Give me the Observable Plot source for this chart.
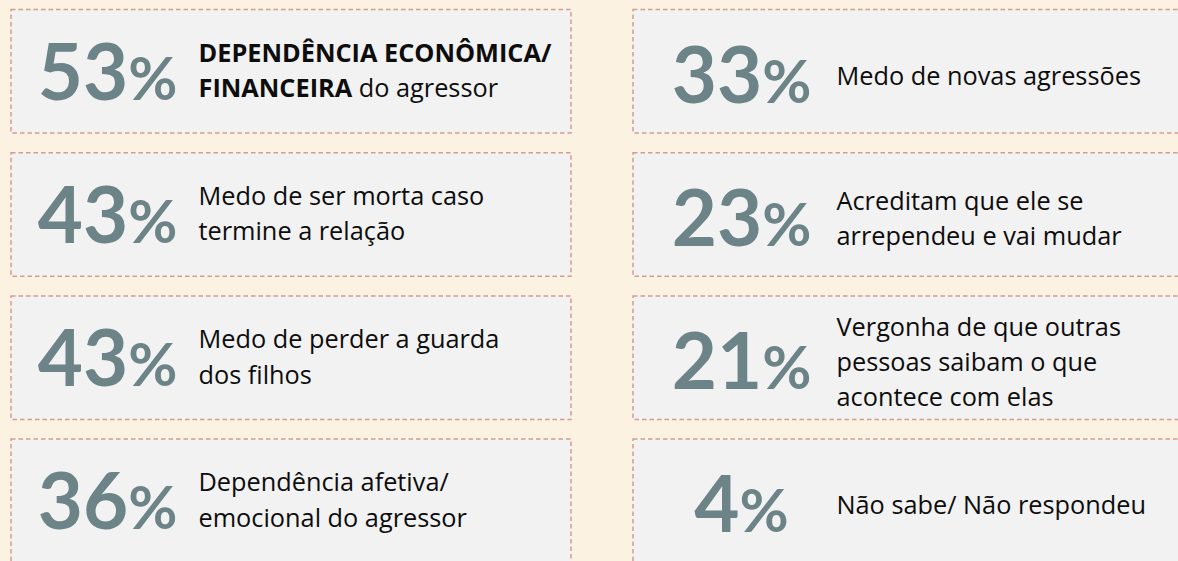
<!DOCTYPE html>
<html><head><meta charset="utf-8">
<script src="https://cdn.jsdelivr.net/npm/d3@7"></script>
<script src="https://cdn.jsdelivr.net/npm/@observablehq/plot@0.6"></script>
<style>
html,body{margin:0;padding:0;background:#fcf2e1;overflow:hidden;}
#chart svg{display:block;overflow:hidden;}
</style></head>
<body><div id="chart"></div>
<script>
// ---- data ----
const columns = ["left","left","left","left","right","right","right","right"];
const rows = [1,2,3,4,1,2,3,4];
const percents = [53,43,43,36,33,23,21,4];
const labels = [
  "**DEPENDÊNCIA ECONÔMICA/**\n**FINANCEIRA** do agressor",
  "Medo de ser morta caso\ntermine a relação",
  "Medo de perder a guarda\ndos filhos",
  "Dependência afetiva/\nemocional do agressor",
  "Medo de novas agressões",
  "Acreditam que ele se\narrependeu e vai mudar",
  "Vergonha de que outras\npessoas saibam o que\nacontece com elas",
  "Não sabe/ Não respondeu"
];

const data = percents.map((p, i) => ({col: columns[i], row: rows[i], pct: p, label: labels[i]}));
const leftData = data.filter(d => d.col === "left");
const rightData = data.filter(d => d.col === "right");

const numColor = "#6c8387";
const numOpts = {x: "col", y: "row", text: d => d.pct + "%", fontFamily: "Lato", fontWeight: "bold",
  fontSize: 78, fill: numColor, textAnchor: "middle", lineAnchor: "bottom"};
const labOpts = {x: "col", y: "row", text: "label", fontFamily: "Open Sans", fontSize: 25.3, fill: "#0d0d0d",
  textAnchor: "start", lineAnchor: "middle", lineHeight: 1.4};

const chart = Plot.plot({
  width: 1178, height: 561, margin: 0,
  x: {type: "band", domain: ["left","right"], range: [11, 1193], paddingInner: 0.0997, paddingOuter: 0, round: false, axis: null},
  y: {type: "band", domain: [1,2,3,4], range: [9.5, 562.6], paddingInner: 0.1376, paddingOuter: 0, round: false, axis: null},
  style: {background: "transparent", overflow: "hidden"},
  marks: [
    Plot.cell(data, {x: "col", y: "row", fill: "#f2f2f2", stroke: "#d29d94", strokeWidth: 1.5, strokeDasharray: "4.5,3"}),
    Plot.text(leftData, {...numOpts, dx: -184, dy: 28}),
    Plot.text(rightData, {...numOpts, dx: -172, dy: 31}),
    Plot.text(leftData, {...labOpts, dx: -93, dy: -3.5}),
    Plot.text(rightData, {...labOpts, dx: -77, dy: 1.5})
  ]
});
document.getElementById("chart").appendChild(chart);

const SVGNS = "http://www.w3.org/2000/svg";
const textGroups = chart.querySelectorAll('g[aria-label="text"]');
const numberGroups = [textGroups[0], textGroups[1]];
const labelGroups = [textGroups[2], textGroups[3]];

// smaller percent sign
numberGroups.forEach(g => g.querySelectorAll("text").forEach(el => {
  const digits = el.textContent.replace("%", "");
  el.textContent = "";
  const t1 = document.createElementNS(SVGNS, "tspan"); t1.textContent = digits;
  const t2 = document.createElementNS(SVGNS, "tspan"); t2.textContent = "%"; t2.setAttribute("font-size", 60);
  el.appendChild(t1); el.appendChild(t2);
}));

// bold segments marked with **
function applyBold(node) {
  const s = node.textContent;
  if (!s.includes("**")) return;
  node.textContent = "";
  s.split(/(\*\*[^*]+\*\*)/).filter(Boolean).forEach(part => {
    const t = document.createElementNS(SVGNS, "tspan");
    if (part.startsWith("**")) { t.setAttribute("font-weight", "bold"); t.textContent = part.slice(2, -2); }
    else t.textContent = part;
    node.appendChild(t);
  });
}
labelGroups.forEach(g => g.querySelectorAll("text").forEach(el => {
  const spans = el.querySelectorAll("tspan");
  if (spans.length) spans.forEach(applyBold); else applyBold(el);
}));
</script>
</body></html>
